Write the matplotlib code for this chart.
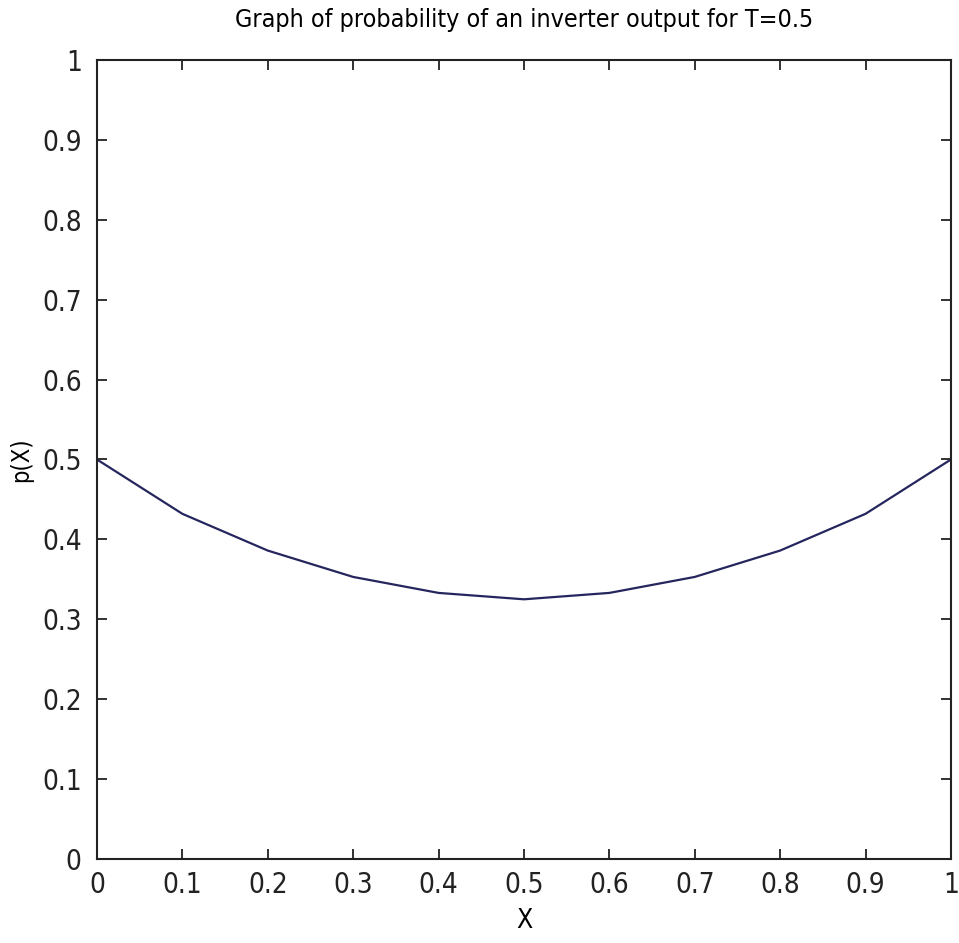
import numpy as np
import matplotlib
matplotlib.use('Agg')
import matplotlib.pyplot as plt

# probability curve at 0.1 steps
x_vals = [0.0, 0.1, 0.2, 0.3, 0.4, 0.5, 0.6, 0.7, 0.8, 0.9, 1.0]
p_vals = [0.500, 0.432, 0.386, 0.353, 0.333, 0.325, 0.333, 0.353, 0.386, 0.432, 0.500]

ticks = [0, 0.1, 0.2, 0.3, 0.4, 0.5, 0.6, 0.7, 0.8, 0.9, 1]
tick_labels = ['0', '0.1', '0.2', '0.3', '0.4', '0.5', '0.6', '0.7', '0.8', '0.9', '1']

plt.rcParams['font.family'] = ['DejaVu Sans']
plt.rcParams['font.stretch'] = 'condensed'

fig = plt.figure(figsize=(9.59, 9.43), dpi=100)
ax = fig.add_axes([0.1011, 0.0891, 0.8905, 0.8473])

ax.plot(x_vals, p_vals, color='#26265e', linewidth=1.6)

ax.set_xlim(0, 1)
ax.set_ylim(0, 1)
ax.set_xticks(ticks)
ax.set_xticklabels(tick_labels)
ax.set_yticks(ticks)
ax.set_yticklabels(tick_labels)
ax.tick_params(direction='in', length=7, width=1.3, top=True, right=True,
               labelsize=20, colors='#222222')
ax.tick_params(axis='x', pad=9)
ax.tick_params(axis='y', pad=11)
for s in ax.spines.values():
    s.set_linewidth(1.5)
    s.set_color('#222222')

ax.set_title('Graph of probability of an inverter output for T=0.5', fontsize=18, pad=24)
ax.set_xlabel('X', fontsize=19, labelpad=6)
ax.set_ylabel('p(X)', fontsize=17, labelpad=6)

plt.savefig('out.png', dpi=100)
